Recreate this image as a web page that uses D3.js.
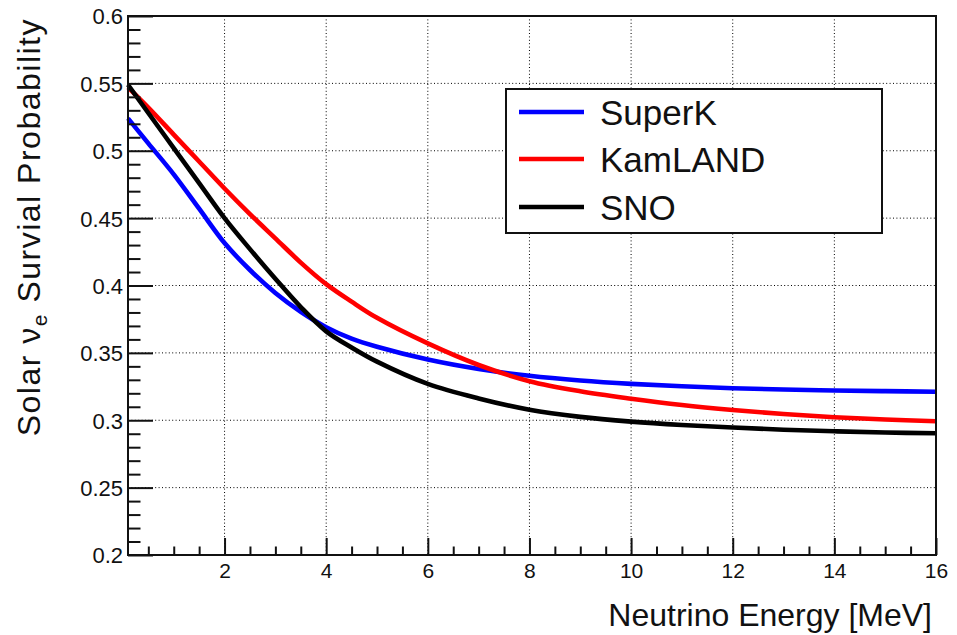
<!DOCTYPE html>
<html>
<head>
<meta charset="utf-8">
<script src="https://cdn.jsdelivr.net/npm/d3@7/dist/d3.min.js"></script>
<style>
  html, body { margin: 0; padding: 0; background: #fff; }
  svg { display: block; font-family: "Liberation Sans", Arial, Helvetica, sans-serif; }
</style>
</head>
<body>
<svg id="chart" width="957" height="635"></svg>
<script>
// Neutrino energy sample points [MeV]
const energy = [0.1, 0.5, 1, 1.5, 2, 2.5, 3, 3.5, 4, 4.5, 5, 6, 7, 8, 9, 10, 11, 12, 13, 14, 15, 16];

// Survival probability curves
const superK  = [0.524, 0.5055, 0.4825, 0.457, 0.4315, 0.4115, 0.3945, 0.3805, 0.369, 0.3605, 0.3545, 0.345, 0.338, 0.333, 0.3295, 0.327, 0.3252, 0.3238, 0.3228, 0.3221, 0.3216, 0.3212];
const kamland = [0.547, 0.532, 0.512, 0.492, 0.472, 0.453, 0.435, 0.417, 0.401, 0.388, 0.376, 0.357, 0.341, 0.329, 0.3215, 0.316, 0.3113, 0.3076, 0.3046, 0.3022, 0.3005, 0.2993];
const sno     = [0.549, 0.528, 0.502, 0.476, 0.450, 0.427, 0.405, 0.384, 0.366, 0.354, 0.3435, 0.327, 0.3162, 0.3078, 0.3025, 0.299, 0.2965, 0.2946, 0.293, 0.2918, 0.2909, 0.2903];

const seriesNames  = ["SuperK", "KamLAND", "SNO"];
const seriesColors = ["#0000ff", "#ff0000", "#000000"];
const seriesValues = [superK, kamland, sno];

const xMajorTicks = [2, 4, 6, 8, 10, 12, 14, 16];
const yMajorTicks = [0.2, 0.25, 0.3, 0.35, 0.4, 0.45, 0.5, 0.55, 0.6];

const svg = d3.select("#chart");
const frame = { left: 128, right: 936, top: 16, bottom: 555 };

const x = d3.scaleLinear().domain([0.1, 16]).range([frame.left, frame.right]);
const y = d3.scaleLinear().domain([0.2, 0.6]).range([frame.bottom, frame.top]);

// Dotted grid at major ticks
const grid = svg.append("g").attr("stroke", "#000").attr("stroke-width", 1)
  .attr("stroke-dasharray", "1,2.4").attr("fill", "none");
xMajorTicks.filter(t => t < 16).forEach(t => {
  grid.append("line").attr("x1", x(t)).attr("x2", x(t)).attr("y1", frame.top).attr("y2", frame.bottom);
});
yMajorTicks.filter(t => t > 0.2 && t < 0.6).forEach(t => {
  grid.append("line").attr("x1", frame.left).attr("x2", frame.right).attr("y1", y(t)).attr("y2", y(t));
});

// Curves
const line = d3.line().x(d => x(d[0])).y(d => y(d[1])).curve(d3.curveCatmullRom.alpha(0.5));
seriesValues.forEach((vals, i) => {
  svg.append("path")
    .datum(energy.map((e, k) => [e, vals[k]]))
    .attr("fill", "none")
    .attr("stroke", seriesColors[i])
    .attr("stroke-width", 4.6)
    .attr("stroke-linejoin", "round")
    .attr("d", line);
});

// Frame
svg.append("rect")
  .attr("x", frame.left).attr("y", frame.top)
  .attr("width", frame.right - frame.left).attr("height", frame.bottom - frame.top)
  .attr("fill", "none").attr("stroke", "#111").attr("stroke-width", 2);

// X axis ticks (inward) and labels
const xAxis = d3.axisBottom(x)
  .tickValues(d3.range(0.5, 16.01, 0.5))
  .tickSize(0).tickFormat("");
const gx = svg.append("g").attr("transform", `translate(0,${frame.bottom})`).call(xAxis);
gx.select(".domain").remove();
gx.selectAll(".tick line").remove();
gx.selectAll(".tick text").remove();
const isMajorX = d => Math.abs(d % 2) < 1e-6;
gx.selectAll(".tick").append("line")
  .attr("y1", 0)
  .attr("y2", d => (isMajorX(d) ? -17 : -8.5))
  .attr("stroke", "#111").attr("stroke-width", 2);
gx.selectAll(".tick").filter(isMajorX).append("text")
  .attr("y", 23).attr("text-anchor", "middle").attr("fill", "#111")
  .attr("font-size", 21).text(d => d3.format("d")(d));

// Y axis ticks (inward) and labels
const yAxis = d3.axisLeft(y)
  .tickValues(d3.range(0, 41).map(k => 0.2 + k * 0.01))
  .tickSize(0).tickFormat("");
const gy = svg.append("g").attr("transform", `translate(${frame.left},0)`).call(yAxis);
gy.select(".domain").remove();
gy.selectAll(".tick line").remove();
gy.selectAll(".tick text").remove();
const isMajorY = d => Math.abs(Math.round(d * 100) % 5) === 0;
gy.selectAll(".tick").append("line")
  .attr("x1", 0)
  .attr("x2", d => (isMajorY(d) ? 25 : 12.5))
  .attr("stroke", "#111").attr("stroke-width", 2);
gy.selectAll(".tick").filter(isMajorY).append("text")
  .attr("x", -5).attr("dy", "0.36em").attr("text-anchor", "end").attr("fill", "#111")
  .attr("font-size", 22).text(d => d3.format("~g")(+d.toFixed(2)));

// Axis titles
svg.append("text")
  .attr("x", 932).attr("y", 626)
  .attr("text-anchor", "end").attr("font-size", 32).attr("fill", "#111")
  .text("Neutrino Energy [MeV]");

const yTitle = svg.append("text")
  .attr("transform", "translate(40,18) rotate(-90)")
  .attr("text-anchor", "end").attr("font-size", 32).attr("fill", "#111")
  .attr("letter-spacing", 1.5);
yTitle.append("tspan").text("Solar ν");
yTitle.append("tspan").attr("font-size", 21).attr("dy", 7).text("e");
yTitle.append("tspan").attr("dy", -7).text(" Survial Probability");

// Legend
const legend = svg.append("g");
legend.append("rect")
  .attr("x", 506).attr("y", 89).attr("width", 376).attr("height", 144)
  .attr("fill", "#fff").attr("stroke", "#111").attr("stroke-width", 2);
const legendY = [112, 159, 207];
seriesNames.forEach((name, i) => {
  legend.append("line")
    .attr("x1", 519).attr("x2", 584).attr("y1", legendY[i]).attr("y2", legendY[i])
    .attr("stroke", seriesColors[i]).attr("stroke-width", 4.6);
  legend.append("text")
    .attr("x", 600).attr("y", legendY[i]).attr("dy", "0.36em")
    .attr("font-size", 35).attr("fill", "#111").text(name);
});
</script>
</body>
</html>
